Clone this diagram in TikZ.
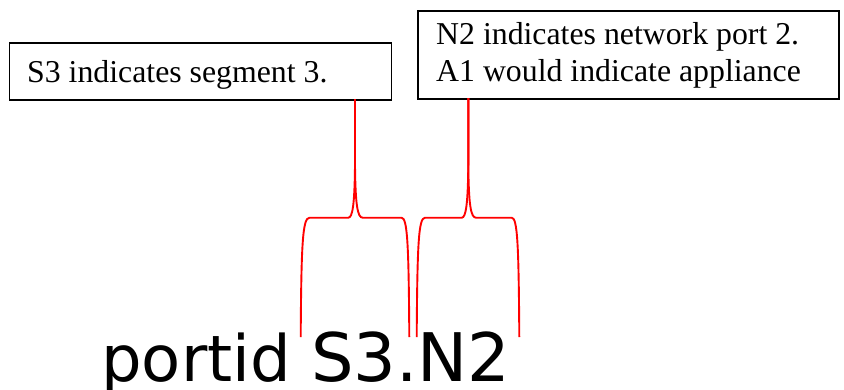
\documentclass[tikz,border=0pt]{standalone}
\usepackage{fontspec}
\setmainfont{Liberation Serif}
\newfontfamily\bigsans{DejaVu Sans}
\begin{document}
\begin{tikzpicture}[x=1pt,y=-1pt,
  box/.style={draw=black,line width=1.9pt,inner sep=0pt,anchor=north west},
  serif/.style={inner sep=0pt,anchor=base west,font=\fontsize{31.8}{36.7}\selectfont},
  brace/.style={draw=red,line width=1.9pt}]
\useasboundingbox (0,0) rectangle (844,389);
% left box
\node[box,minimum width=382pt,minimum height=57pt] (lbox) at (8.5,42.3) {};
\node[serif] (ltext) at (27,82.7) {S3 indicates segment 3.};
% right box
\begin{scope}
\clip (417,10) rectangle (838,88.5);
\node[serif] (rtext1) at (436,44.3) {N2 indicates network port 2.};
\node[serif] (rtext2) at (436,81) {A1 would indicate appliance};
\end{scope}
\node[box,minimum width=421pt,minimum height=87.7pt] (rbox) at (417,10) {};
% main text
\node[inner sep=0pt,anchor=base west,font=\bigsans\fontsize{64}{70}\selectfont] (main) at (101,381.5) {portid {\fontsize{67}{70}\selectfont S3.N2}};
% brace end points
\coordinate (s1) at (355,99);
\coordinate (a1) at (300.7,337);
\coordinate (b1) at (409.3,337);
\coordinate (s2) at (468.3,98);
\coordinate (a2) at (416.7,337);
\coordinate (b2) at (519.3,337);
% left brace
\path[brace] (a1) .. controls (301.3,245) and (302.5,217.7) .. (309.5,217.7)
  -- (348.3,217.7) .. controls (352.5,217.7) and (354.6,205) .. (355,165) -- (s1);
\path[brace] (b1) .. controls (408.7,245) and (407.5,217.7) .. (401.5,217.7)
  -- (362.7,217.7) .. controls (357.5,217.7) and (355.4,205) .. (355,165) -- (s1);
% right brace
\path[brace] (a2) .. controls (417.3,245) and (418.5,217.7) .. (425,217.7)
  -- (461.7,217.7) .. controls (465.8,217.7) and (467.9,205) .. (468.3,165) -- (s2);
\path[brace] (b2) .. controls (518.7,245) and (517.5,217.7) .. (511.7,217.7)
  -- (476,217.7) .. controls (470.8,217.7) and (468.7,205) .. (468.3,165) -- (s2);
\end{tikzpicture}
\end{document}
